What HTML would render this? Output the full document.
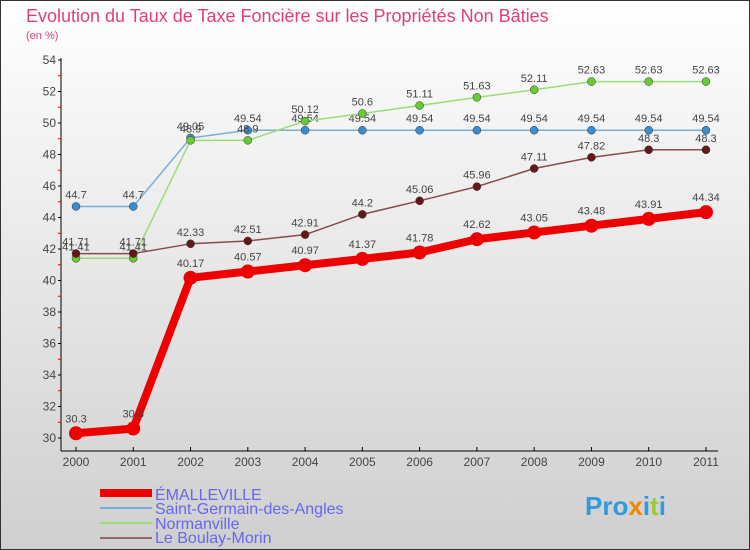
<!DOCTYPE html>
<html><head><meta charset="utf-8"><style>
body{margin:0}
svg{display:block;font-family:"Liberation Sans",sans-serif}
</style></head><body>
<svg id="c" width="750" height="550" xmlns="http://www.w3.org/2000/svg">
<defs><linearGradient id="bg" x1="0" y1="0" x2="0" y2="1"><stop offset="0" stop-color="#ffffff"/><stop offset="1" stop-color="#cfcfcf"/></linearGradient></defs>
<rect x="0.5" y="0.5" width="749" height="549" fill="url(#bg)" stroke="#333"/>
<text x="26" y="22" font-size="18" fill="#e0407a">Evolution du Taux de Taxe Foncière sur les Propriétés Non Bâties</text>
<text x="26" y="39" font-size="11" fill="#e0407a">(en %)</text>
<g id="axes"></g><g id="series"></g>
<g>
<rect x="100" y="489" width="52" height="8" fill="#e00"/>
<text x="155" y="500" font-size="16" fill="#6666ee">ÉMALLEVILLE</text>
<rect x="100" y="507" width="52" height="2" fill="#7aaed8"/>
<text x="155" y="514" font-size="16" fill="#6666ee">Saint-Germain-des-Angles</text>
<rect x="100" y="522" width="52" height="2" fill="#99dd77"/>
<text x="155" y="529" font-size="16" fill="#6666ee">Normanville</text>
<rect x="100" y="537" width="52" height="2" fill="#996666"/>
<text x="155" y="543" font-size="16" fill="#6666ee">Le Boulay-Morin</text>
</g>
<text x="585" y="515" font-size="26" font-weight="bold" fill="#3399dd">Pro<tspan fill="#ee8800">x</tspan>i<tspan fill="#99cc33">t</tspan>i</text>
</svg>
<script>
const years=[2000,2001,2002,2003,2004,2005,2006,2007,2008,2009,2010,2011];
const emalleville=[30.3,30.6,40.17,40.57,40.97,41.37,41.78,42.62,43.05,43.48,43.91,44.34];
const saintGermain=[44.7,44.7,49.05,49.54,49.54,49.54,49.54,49.54,49.54,49.54,49.54,49.54];
const normanville=[41.41,41.41,48.9,48.9,50.12,50.6,51.11,51.63,52.11,52.63,52.63,52.63];
const boulay=[41.71,41.71,42.33,42.51,42.91,44.2,45.06,45.96,47.11,47.82,48.3,48.3];
const yTicks=[30,32,34,36,38,40,42,44,46,48,50,52,54];
const NS="http://www.w3.org/2000/svg";
const X=i=>76+i*57.27, Y=v=>438-(v-30)*15.75;
function mk(p,t,a){const e=document.createElementNS(NS,t);for(const k in a)e.setAttribute(k,a[k]);p.appendChild(e);return e;}
const ax=document.getElementById('axes');
const yl=mk(ax,'line',{x1:61,y1:58,x2:61,y2:451,stroke:'#000'});


const xl=mk(ax,'line',{x1:61,y1:451,x2:718,y2:451,stroke:'#000'});


yTicks.forEach(v=>{
 mk(ax,'line',{x1:58,x2:61,y1:Y(v),y2:Y(v),stroke:'#000'});
 if(v<54)mk(ax,'line',{x1:58,x2:61,y1:Y(v+1),y2:Y(v+1),stroke:'#e00'});
 const t=mk(ax,'text',{x:56,y:Y(v)+4,'font-size':12,'text-anchor':'end',fill:'#444'});t.textContent=v;
 
 
});
years.forEach((y,i)=>{
 mk(ax,'line',{x1:X(i),x2:X(i),y1:447,y2:451,stroke:'#000'});
 const t=mk(ax,'text',{x:X(i),y:466,'font-size':12,'text-anchor':'middle',fill:'#444'});t.textContent=y;
 
 
});
const sg=document.getElementById('series');
function series(data,name,color,dot,lw,r,fs){
 const g=mk(sg,'g',{});
 
 
 mk(g,'polyline',{points:data.map((v,i)=>X(i)+','+Y(v)).join(' '),fill:'none',stroke:color,'stroke-width':lw,'stroke-linejoin':'round'});
 data.forEach((v,i)=>{
  const c=mk(g,'circle',{cx:X(i),cy:Y(v),r:r,fill:dot,stroke:'#333','stroke-width':lw>3?0:0.5});
  
  
  const t=mk(g,'text',{x:X(i),y:Y(v)-(r+4),'font-size':fs,'text-anchor':'middle',fill:'#444'});t.textContent=v;
  
  
 });
}
series(saintGermain,'saint-germain','#7aaed8','#3a8ed0',1.5,4,11);
series(normanville,'normanville','#99dd77','#66cc33',1.5,4,11);
series(boulay,'le-boulay-morin','#8b4a4a','#661818',1.5,4,11);
series(emalleville,'emalleville','#ee0000','#ee0000',8,7,11);
</script>
</body></html>
